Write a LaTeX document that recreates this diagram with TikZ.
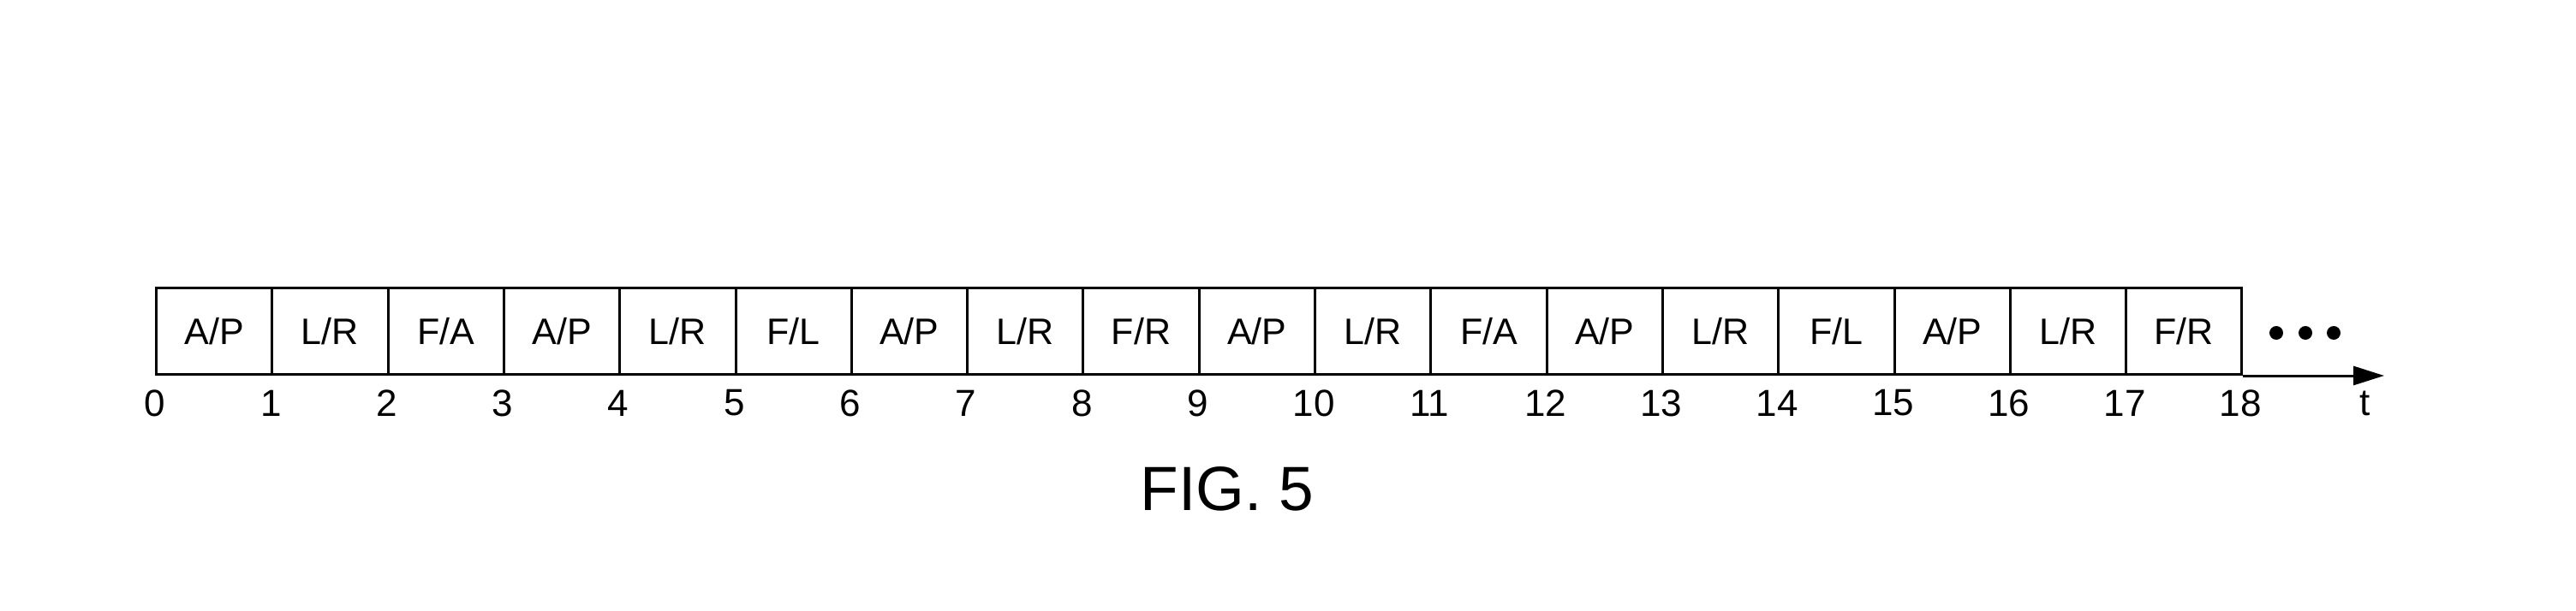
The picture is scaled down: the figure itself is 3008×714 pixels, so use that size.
\documentclass[tikz,border=0pt]{standalone}
\usepackage{fontspec}
\setmainfont{Liberation Sans}
\usetikzlibrary{arrows.meta}
\begin{document}
\begin{tikzpicture}[x=1pt,y=1pt,
  slot/.style={draw=black, line width=3pt, minimum width=135.3pt, minimum height=101pt, inner sep=0pt, anchor=south west, font=\fontsize{43}{43}\selectfont},
  ticklbl/.style={font=\fontsize{44}{44}\selectfont, inner sep=0pt},
  dot/.style={circle, fill=black, minimum size=16pt, inner sep=0pt}]
\useasboundingbox (0,0) rectangle (3008,-714);
\foreach \lab [count=\i from 0] in {A/P,L/R,F/A,A/P,L/R,F/L,A/P,L/R,F/R,A/P,L/R,F/A,A/P,L/R,F/L,A/P,L/R,F/R} {
  \node[slot] (b\i) at ({181+135.3*\i},-439) {\lab};
}
\foreach \i in {0,...,18} {
  \node[ticklbl] (n\i) at ({181+135.3*\i},-471) {\i};
}
\coordinate (tip) at (2784,-439);
\draw[line width=3pt, -{Triangle[length=36pt,width=22pt]}] (b17.south east) -- (tip);
\node[ticklbl] (tl) at (2762,-471) {t};
\node[dot] (d1) at (2658,-389) {};
\node[dot] (d2) at (2692,-389) {};
\node[dot] (d3) at (2725,-389) {};
\node[font=\fontsize{73}{73}\selectfont, inner sep=0pt] (fig) at (1433,-571) {FIG. 5};
\end{tikzpicture}
\end{document}
